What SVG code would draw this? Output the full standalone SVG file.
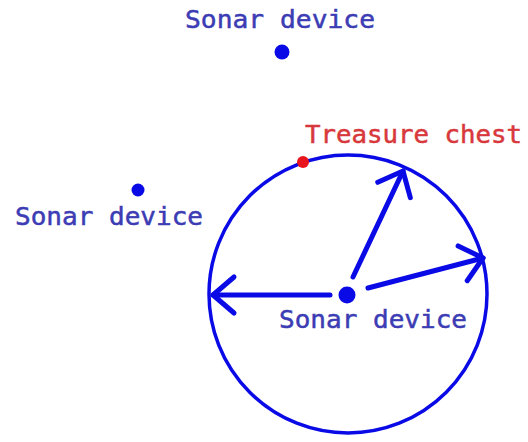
<svg xmlns="http://www.w3.org/2000/svg" width="528" height="442" viewBox="0 0 528 442">
<style>
.lbl{font-family:"DejaVu Sans Mono","Liberation Mono",monospace;font-size:25px;fill:#3c3cb4;stroke:#3c3cb4;stroke-width:0.5}
.red{fill:#d8383c;stroke:#d8383c}
.dev{fill:#0a0ae6}
.conn{stroke:#0a0ae6;stroke-width:5;fill:none;stroke-linecap:round}
</style>
<defs>
<marker id="chev" markerUnits="userSpaceOnUse" markerWidth="60" markerHeight="60" refX="0" refY="0" orient="auto" overflow="visible">
<path d="M-21,-18 L0,0 L-21,18" fill="none" stroke="#0a0ae6" stroke-width="5" stroke-linecap="round" stroke-linejoin="round"/>
</marker>
</defs>
<rect width="528" height="442" fill="#fff"/>
<g id="circle"><circle cx="348" cy="294" r="139" fill="none" stroke="#0a0ae6" stroke-width="3.5"/></g>
<g id="connectors">
<line class="conn" x1="330" y1="295" x2="213" y2="295" marker-end="url(#chev)"/>
<line class="conn" x1="353" y1="277" x2="403" y2="171" marker-end="url(#chev)"/>
<line class="conn" x1="368" y1="288" x2="483" y2="258" marker-end="url(#chev)"/>
</g>
<g id="sonar-top"><circle class="dev" cx="282" cy="52" r="7.5"/><text class="lbl" x="185" y="28" textLength="190" lengthAdjust="spacingAndGlyphs">Sonar device</text></g>
<g id="sonar-left"><circle class="dev" cx="138" cy="190" r="6.5"/><text class="lbl" x="15" y="225" textLength="188" lengthAdjust="spacingAndGlyphs">Sonar device</text></g>
<g id="sonar-center"><circle class="dev" cx="347" cy="295" r="8.5"/><text class="lbl" x="279" y="328" textLength="188" lengthAdjust="spacingAndGlyphs">Sonar device</text></g>
<g id="treasure"><circle cx="303" cy="162" r="6" fill="#e8141e"/><text class="lbl red" x="305" y="143" textLength="217" lengthAdjust="spacingAndGlyphs">Treasure chest</text></g>
</svg>
